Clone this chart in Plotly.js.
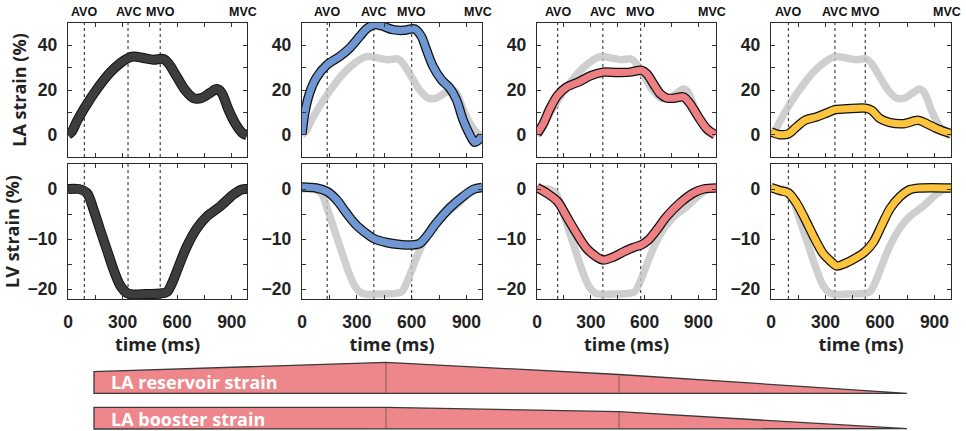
<!DOCTYPE html>
<html>
<head>
<meta charset="utf-8">
<script src="https://cdn.plot.ly/plotly-3.0.1.min.js"></script>
<style>html,body{margin:0;padding:0;background:#fff;}#chart{width:966px;height:431px;}</style>
</head>
<body>
<div id="chart"></div>
<script>
// ---------- data ----------
// Panel 1 (reference / healthy) LA and LV strain
var t1LA = [0,22,49,91,159,232,287,331,360,415,470,525,552,598,644,690,735,781,818,845,882,918,955,984];
var v1LA = [0,1.5,6,12,20.4,27.9,32,34.3,35,34.3,33.6,33.9,32,26,20,16.4,16.4,18.7,20.4,18.7,11.2,5.2,1,-0.3];
var t1LV = [0,60,104,141,177,214,251,287,324,360,430,507,543,571,607,653,708,763,836,909,955,984];
var v1LV = [0,0,-0.8,-4.2,-8.2,-12.2,-16.2,-19.3,-20.8,-21.1,-21,-20.9,-20.6,-18.9,-15.6,-11.5,-7.9,-5.5,-3.5,-1.1,-0.1,0];
// Panel 2 (blue)
var t2LA = [0,15,42,78,137,206,261,316,352,398,434,498,553,617,653,681,717,763,808,845,881,918,945,969,985];
var v2LA = [0.3,9.7,18.7,25.4,31.3,35,38.8,44,47.3,49.3,48.8,47,46.7,47.3,44,38,30.6,24.6,20.9,15.7,6.7,0,-3.4,-2.2,-0.7];
var t2LV = [0,78,137,188,243,297,352,392,462,535,600,644,681,735,808,881,936,985];
var v2LV = [0.4,0.2,-0.5,-2.1,-4.8,-7.2,-8.9,-9.9,-10.7,-11.1,-11.2,-10.9,-9.5,-6.8,-3.8,-1.5,-0.1,0.3];
// Panel 3 (red)
var t3LA = [0,35,72,115,165,240,296,368,444,519,584,612,649,686,723,770,816,853,900,946,993];
var v3LA = [0.4,4.9,11.6,17.6,21.3,23.9,26.3,28,27.8,28,28.8,27.3,22.8,18.4,16.4,16.4,16.9,13.9,7.9,2.7,0];
var t3LV = [0,54,115,165,221,277,333,368,426,481,537,580,621,667,723,797,872,928,998];
var v3LV = [0.3,-0.8,-2.5,-5.5,-8.9,-11.9,-13.6,-14.2,-13.6,-12.6,-11.7,-11.2,-10.2,-8.2,-5.5,-2.8,-0.8,0,0.2];
// Panel 4 (yellow)
var t4LA = [0,48,96,140,186,250,306,352,416,519,554,600,656,729,812,858,913,991];
var v4LA = [1.2,0,0.4,3.4,6.4,7.9,9.7,11.2,11.6,11.9,10.9,7.2,5.4,4.9,6.4,4.9,2.7,0.4];
var t4LV = [0,48,96,140,186,232,287,333,361,407,471,519,564,610,656,711,766,821,991];
var v4LV = [0.3,-0.3,-0.8,-2.8,-5.9,-9.3,-12.9,-14.6,-15.4,-14.9,-13.7,-12.5,-10.6,-7.2,-3.9,-1.5,-0.1,0.2,0.2];

// event times (ms) per panel
var evAVO = [90,138,115,96];
var evAVC = [330,393,367,352];
var evMVO = [507,600,578,519];
var cycleEnd = [984,985,998,991];   // MVC
var eventNames = ["AVO","AVC","MVO","MVC"];

var xTickLabels = [0,300,600,900];
var laTicks = [0,20,40];
var lvTicks = [0,-10,-20];

var panelColors = ["#3d3d3d","#6f97d3","#ee8084","#fcc43c"];
var laSeries = [[t1LA,v1LA],[t2LA,v2LA],[t3LA,v3LA],[t4LA,v4LA]];
var lvSeries = [[t1LV,v1LV],[t2LV,v2LV],[t3LV,v3LV],[t4LV,v4LV]];

// ---------- layout geometry ----------
var W = 966, H = 431;
var colPx = [[68,247],[302,482],[537,716],[771,951]];
var rowPx = [[23,157],[164,299]];
function px(x){return x/W;}
function py(y){return 1 - y/H;}

var data = [];
var layout = {
  width: W, height: H,
  margin: {l:0,r:0,t:0,b:0},
  paper_bgcolor: "#fff", plot_bgcolor: "#fff",
  showlegend: false,
  shapes: [], annotations: []
};
var tickFont = {family:"Liberation Sans, Arial, sans-serif", size:17.5, color:"#222", weight:"bold"};
var titleFont = {family:"Open Sans, sans-serif", size:18, color:"#222", weight:"bold"};

for (var r = 0; r < 2; r++) {
  for (var p = 0; p < 4; p++) {
    var idx = r*4 + p + 1;
    var xs = idx === 1 ? "x" : "x"+idx;
    var ys = idx === 1 ? "y" : "y"+idx;
    var xa = "xaxis" + (idx===1?"":idx);
    var ya = "yaxis" + (idx===1?"":idx);
    layout[xa] = {
      domain:[px(colPx[p][0]), px(colPx[p][1])], anchor: ys,
      range:[0, cycleEnd[p]], tickvals: xTickLabels, ticktext: xTickLabels.map(String),
      ticks:"inside", ticklen:4, tickcolor:"#333", tickwidth:1,
      minor:{tickvals:[150,450,750], ticks:"inside", ticklen:4, tickcolor:"#333"},
      showline:true, mirror:"ticks", linecolor:"#2a2a2a", linewidth:1.3,
      showgrid:false, zeroline:false, fixedrange:true,
      showticklabels: r===1, tickfont: tickFont, ticklabelstandoff: 7,
      title: r===1 ? {text:"time (ms)", font:titleFont, standoff:0} : {text:""}
    };
    layout[ya] = {
      domain:[py(rowPx[r][1]), py(rowPx[r][0])], anchor: xs,
      range: r===0 ? [-10,50] : [-22,5],
      tickvals: r===0 ? laTicks : lvTicks,
      ticks:"inside", ticklen:4, tickcolor:"#333",
      minor:{dtick: r===0 ? 10 : 5, ticks:"inside", ticklen:4, tickcolor:"#333"},
      showline:true, mirror:"ticks", linecolor:"#2a2a2a", linewidth:1.3,
      showgrid:false, zeroline:false, fixedrange:true,
      tickfont: tickFont, ticklabelstandoff: 6,
      title: p===0 ? {text: r===0 ? "LA strain (%)" : "LV strain (%)", font:titleFont, standoff:6} : {text:""}
    };
    // event dotted lines
    [evAVO[p], evAVC[p], evMVO[p]].forEach(function(t){
      layout.shapes.push({type:"line", xref:xs, yref:ys+" domain", x0:t, x1:t, y0:0, y1:1,
        line:{color:"#444", width:1.2, dash:"dot"}, layer:"below"});
    });
    var ser = r===0 ? laSeries[p] : lvSeries[p];
    var ref = r===0 ? laSeries[0] : lvSeries[0];
    if (p > 0) {
      data.push({x:ref[0], y:ref[1], xaxis:xs, yaxis:ys, mode:"lines", hoverinfo:"skip",
        line:{color:"rgba(195,195,195,0.8)", width:7.5, shape:"spline", smoothing:0.9}});
    }
    data.push({x:ser[0], y:ser[1], xaxis:xs, yaxis:ys, mode:"lines", hoverinfo:"skip",
      line:{color:"#111", width:p===0?10:9.5, shape:"spline", smoothing:0.9}});
    data.push({x:ser[0], y:ser[1], xaxis:xs, yaxis:ys, mode:"lines", hoverinfo:"skip",
      line:{color:panelColors[p], width:p===0?8:7, shape:"spline", smoothing:0.9}});
    // event labels
    if (r === 0) {
      var evT = [evAVO[p], evAVC[p], evMVO[p], cycleEnd[p]];
      evT.forEach(function(t, k){
        layout.annotations.push({text:eventNames[k], x:t, xref:xs, y:py(12), yref:"paper",
          showarrow:false, xanchor:"center", yanchor:"middle", xshift: k===3 ? -4 : 0,
          font:{family:"Liberation Sans, Arial, sans-serif", size:12.5, color:"#111", weight:"bold"}});
      });
    }
  }
}

// ---------- bottom wedges ----------
function pathFrom(pts){
  return pts.map(function(q,i){return (i?"L":"M")+px(q[0]).toFixed(4)+","+py(q[1]).toFixed(4);}).join(" ")+" Z";
}
var wedgeFill = "#ee878b", wedgeLine = "#3a3a3a";
var reservoir = [[94,393.3],[94,371.7],[386,362.3],[619,374.5],[907,393.3]];
var booster = [[94,429],[94,407.3],[386,407.3],[619,411.7],[907,428.7]];
[reservoir, booster].forEach(function(w){
  layout.shapes.push({type:"path", xref:"paper", yref:"paper", path:pathFrom(w),
    fillcolor:wedgeFill, line:{color:wedgeLine, width:1.3}});
  [w[2], w[3]].forEach(function(q){
    layout.shapes.push({type:"line", xref:"paper", yref:"paper",
      x0:px(q[0]), x1:px(q[0]), y0:py(q[1]), y1:py(w[0][1]),
      line:{color:"#6a4a4a", width:0.8}});
  });
});
var wedgeText = ["LA reservoir strain","LA booster strain"];
var wedgeTextY = [382, 418.5];
wedgeText.forEach(function(t,i){
  layout.annotations.push({text:t, xref:"paper", yref:"paper", x:px(109), y:py(wedgeTextY[i]),
    xanchor:"left", yanchor:"middle", showarrow:false,
    font:{family:"Open Sans, sans-serif", size:18, color:"#fff", weight:"bold"}});
});

Plotly.newPlot("chart", data, layout, {displayModeBar:false, staticPlot:true});
</script>
</body>
</html>
